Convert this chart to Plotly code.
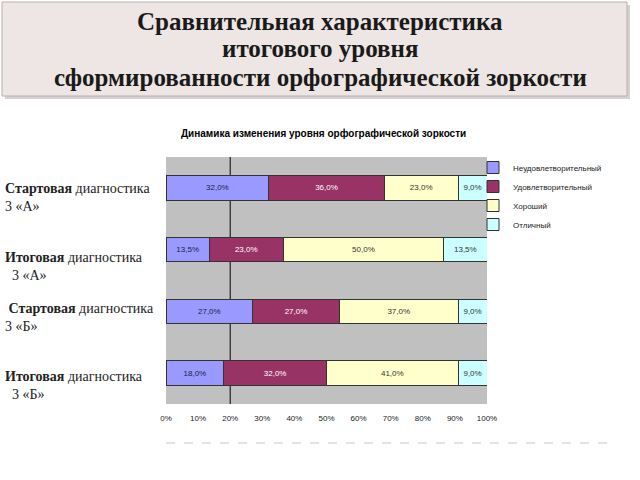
import plotly.graph_objects as go

categories = ["Стартовая 3А", "Итоговая 3А", "Стартовая 3Б", "Итоговая 3Б"]
series_names = ["Неудовлетворительный", "Удовлетворительный", "Хороший", "Отличный"]
values = {
    "Неудовлетворительный": [32.0, 13.5, 27.0, 18.0],
    "Удовлетворительный": [36.0, 23.0, 27.0, 32.0],
    "Хороший": [23.0, 50.0, 37.0, 41.0],
    "Отличный": [9.0, 13.5, 9.0, 9.0],
}
colors = ["#9999ff", "#993366", "#ffffcc", "#ccffff"]
text_colors = ["#222244", "#ffffff", "#333333", "#333333"]
x_ticks = [0, 10, 20, 30, 40, 50, 60, 70, 80, 90, 100]
title_lines = [
    ("Сравнительная характеристика", 22),
    ("итогового уровня", 49),
    ("сформированности орфографической зоркости", 77),
]
row_labels = [
    ("<b>Стартовая</b> диагностика<br>3 «А»", 189),
    ("<b>Итоговая</b> диагностика<br>  3 «А»", 258),
    (" <b>Стартовая</b> диагностика<br>3 «Б»", 309),
    ("<b>Итоговая</b> диагностика<br>  3 «Б»", 377),
]

W, H = 640, 480

fig = go.Figure()
for name, col, tcol in zip(series_names, colors, text_colors):
    vals = values[name]
    fig.add_trace(go.Bar(
        y=categories, x=vals, name=name, orientation="h",
        marker=dict(color=col, line=dict(color="#333333", width=1)),
        text=[f"{v:.1f}%".replace(".", ",") for v in vals],
        textposition="inside", insidetextanchor="middle",
        textfont=dict(size=8, color=tcol, family="Arial"),
        width=0.4,
    ))

# frame of the slide title
fig.add_shape(type="rect", xref="paper", yref="paper",
              x0=5 / W, x1=630 / W, y0=1 - 99 / H, y1=1 - 5 / H,
              fillcolor="#d6d0ce", line=dict(width=0), layer="below")
fig.add_shape(type="rect", xref="paper", yref="paper",
              x0=2 / W, x1=627 / W, y0=1 - 96 / H, y1=1 - 2 / H,
              fillcolor="#ede6e4", line=dict(color="#b8b0ae", width=1), layer="below")
for txt, yp in title_lines:
    fig.add_annotation(text="<b>" + txt + "</b>",
                       xref="paper", yref="paper", x=320 / W, y=1 - yp / H,
                       xanchor="center", yanchor="middle", showarrow=False,
                       font=dict(family="Liberation Serif", size=25, color="#1a1a1a"))

# chart title
fig.add_annotation(text="<b>Динамика изменения уровня орфографической зоркости</b>",
                   xref="paper", yref="paper", x=323 / W, y=1 - 133 / H,
                   xanchor="center", yanchor="middle", showarrow=False,
                   font=dict(family="Arial", size=10, color="#000000"))

# vertical line at 20%
fig.add_shape(type="line", xref="x", yref="y domain", x0=20, x1=20, y0=0, y1=1,
              line=dict(color="#000000", width=1), layer="below")

# dashed separator
fig.add_shape(type="line", xref="paper", yref="paper",
              x0=166 / W, x1=607 / W, y0=1 - 443 / H, y1=1 - 443 / H,
              line=dict(color="#c8c8c8", width=1, dash="dash"))

for txt, yp in row_labels:
    fig.add_annotation(text=txt, xref="paper", yref="paper", x=3 / W, y=1 - (yp + 8) / H,
                       xanchor="left", yanchor="middle", align="left", showarrow=False,
                       font=dict(family="Liberation Serif", size=14, color="#222222"))

fig.update_layout(
    width=W, height=H,
    barmode="stack",
    margin=dict(l=0, r=0, t=0, b=0, autoexpand=False),
    paper_bgcolor="white",
    plot_bgcolor="#c0c0c0",
    showlegend=True,
    legend=dict(x=473 / W, y=1 - 153 / H, xanchor="left", yanchor="top",
                traceorder="normal",
                font=dict(family="Arial", size=8, color="#222222"),
                itemwidth=30, tracegroupgap=0, bgcolor="rgba(0,0,0,0)"),
    xaxis=dict(domain=[166 / W, 487 / W], range=[0, 100], tickvals=x_ticks,
               ticktext=[f"{t}%" for t in x_ticks], showgrid=False, zeroline=False,
               tickfont=dict(family="Arial", size=8, color="#222222"), ticks="",
               ticklabelstandoff=8),
    yaxis=dict(domain=[1 - 404 / H, 1 - 157 / H], autorange="reversed",
               showticklabels=False, showgrid=False, zeroline=False, ticks=""),
    uniformtext=dict(minsize=6, mode="show"),
)

fig.write_html("out.html", config={"displayModeBar": False},
               post_script="document.body.style.margin='0';document.documentElement.style.overflow='hidden';")
